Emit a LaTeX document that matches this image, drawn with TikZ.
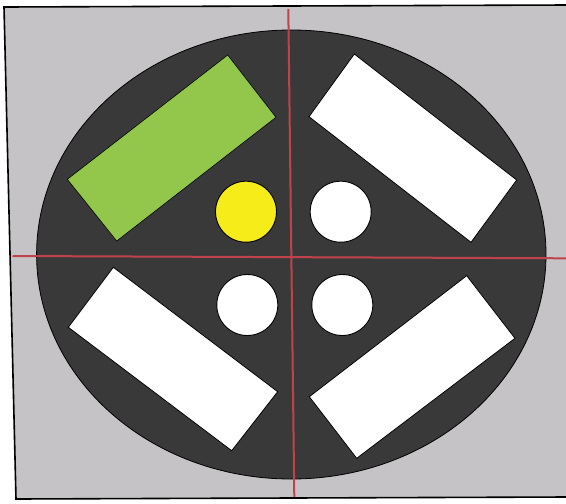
\documentclass[tikz,border=0pt]{standalone}
\definecolor{bggray}{HTML}{C5C3C5}
\definecolor{disc}{HTML}{3A3939}
\definecolor{leaf}{HTML}{93C74B}
\definecolor{sun}{HTML}{F6EC1A}
\definecolor{axisred}{HTML}{C0424A}
\tikzset{
  panel/.style={fill=bggray, draw=black, line width=1.6pt},
  platter/.style={fill=disc, draw=black, line width=0.8pt},
  slab/.style={fill=white, draw=black, line width=0.8pt, line join=miter},
  greenslab/.style={fill=leaf, draw=black, line width=0.6pt},
  dot/.style={circle, minimum size=61pt, inner sep=0pt, fill=white, draw=black, line width=0.9pt},
  yellowdot/.style={dot, fill=sun},
  axis/.style={draw=axisred, line width=2pt}
}
\begin{document}
\begin{tikzpicture}[x=1pt,y=-1pt]
\useasboundingbox (0,0) rectangle (566,504);
\fill[white] (0,0) rectangle (566,504);
% frame
\draw[panel] (4,7) -- (568,5) -- (568,497) -- (16,499) -- cycle;
% disc
\draw[platter] (291.3,254.5) ellipse [x radius=254.7, y radius=224.5];
% slabs
\draw[greenslab] (67.3,179.3) -- (227.7,55) -- (276,117.3) -- (116.7,241) -- cycle;
\draw[slab] (309,116.7) -- (354.3,54) -- (516.7,180) -- (471,242.3) -- cycle;
\draw[slab] (68.3,327.3) -- (113.3,267.3) -- (277.7,391.7) -- (231.7,450.7) -- cycle;
\draw[slab] (309.3,396.7) -- (466.7,275.7) -- (515,338.3) -- (356.7,458.3) -- cycle;
% circles
\node[yellowdot] (c1) at (246,211.7) {};
\node[dot] (c2) at (340.7,211.7) {};
\node[dot] (c3) at (247.3,305) {};
\node[dot] (c4) at (342.3,305) {};
% axes
\coordinate (vt) at (288.3,9);
\coordinate (vb) at (294.3,497);
\coordinate (hl) at (12.5,256);
\coordinate (hr) at (566,258.3);
\draw[axis] (vt) -- (vb);
\draw[axis] (hl) -- (hr);
\end{tikzpicture}
\end{document}
